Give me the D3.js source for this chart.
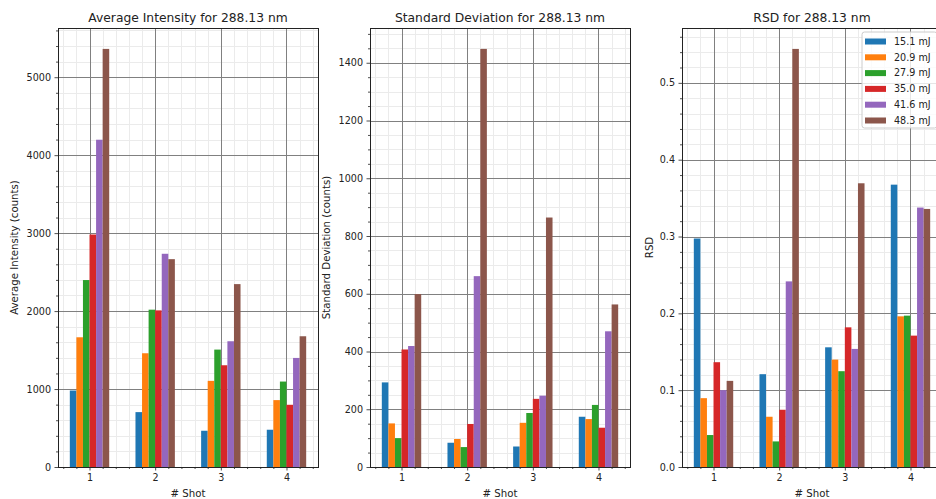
<!DOCTYPE html>
<html>
<head>
<meta charset="utf-8">
<script src="https://cdn.jsdelivr.net/npm/d3@7"></script>
<style>
  body { margin: 0; background: #fff; }
  svg { display: block; }
  text { font-family: "DejaVu Sans", sans-serif; fill: #222; }
</style>
</head>
<body>
<svg id="chart" width="936" height="499"></svg>
<script>
// Shot numbers on the x axis and the laser energies (one bar per energy in each group)
const shots = [1, 2, 3, 4];
const energies = ["15.1 mJ", "20.9 mJ", "27.9 mJ", "35.0 mJ", "41.6 mJ", "48.3 mJ"];
const colors = ["#1f77b4", "#ff7f0e", "#2ca02c", "#d62728", "#9467bd", "#8c564b"];

// Values per shot, one entry per energy (same order as `energies`)
const avgIntensity = [
  [981, 1664, 2398, 2982, 4198, 5363],
  [704, 1459, 2018, 2009, 2735, 2666],
  [465, 1105, 1506, 1305, 1613, 2346],
  [478, 858, 1096, 798, 1399, 1677]
];
const stdDev = [
  [293, 151, 100, 407, 419, 599],
  [84, 97, 69, 149, 661, 1448],
  [71, 153, 187, 236, 247, 864],
  [174, 166, 215, 136, 470, 563]
];
const rsd = [
  [0.2974, 0.0896, 0.0416, 0.1364, 0.1000, 0.1121],
  [0.1208, 0.0654, 0.0333, 0.0745, 0.2416, 0.5442],
  [0.1558, 0.1398, 0.1247, 0.1818, 0.1537, 0.3693],
  [0.3675, 0.1961, 0.1970, 0.1710, 0.3377, 0.3359]
];

const titles = ["Average Intensity for 288.13 nm", "Standard Deviation for 288.13 nm", "RSD for 288.13 nm"];
const yLabels = ["Average Intensity (counts)", "Standard Deviation (counts)", "RSD"];

const panels = [
  { data: avgIntensity, major: 1000, minor: 200, fmt: d3.format("d") },
  { data: stdDev, major: 200, minor: 50, fmt: d3.format("d") },
  { data: rsd, major: 0.1, minor: 0.02, fmt: d3.format(".1f") }
];

const svg = d3.select("#chart");
const plotTop = 28, plotBottom = 467, panelW = 260;
const lefts = [58, 370, 682];
const yLabelOffsets = [44, 44, 33];
const barW = 0.1;

function stepValues(maxV, step, skip) {
  const n = Math.floor(maxV / step + 1e-9);
  return d3.range(0, n + 1).map(i => +(i * step).toFixed(6))
    .filter(v => !skip || Math.abs(v / skip - Math.round(v / skip)) > 1e-6);
}

panels.forEach((p, k) => {
  const left = lefts[k];
  const g = svg.append("g");

  const x = d3.scaleLinear().domain([0.52, 4.48]).range([left, left + panelW]);
  const ymax = d3.max(p.data.flat()) * 1.05;
  const y = d3.scaleLinear().domain([0, ymax]).range([plotBottom, plotTop]);

  const xMajor = shots;
  const xMinor = d3.range(3, 23).map(i => +(i * 0.2).toFixed(6)).filter(v => Math.abs(v - Math.round(v)) > 1e-6);
  const yMajor = stepValues(ymax, p.major);
  const yMinor = stepValues(ymax, p.minor, p.major);

  // grid (minor then major), below the bars
  const grid = g.append("g");
  grid.selectAll(".vmin").data(xMinor).join("line")
    .attr("x1", d => Math.round(x(d)) + 0.5).attr("x2", d => Math.round(x(d)) + 0.5)
    .attr("y1", plotTop).attr("y2", plotBottom).attr("stroke", "#ebebeb").attr("stroke-width", 1);
  grid.selectAll(".hmin").data(yMinor).join("line")
    .attr("y1", d => Math.round(y(d)) + 0.5).attr("y2", d => Math.round(y(d)) + 0.5)
    .attr("x1", left).attr("x2", left + panelW).attr("stroke", "#ebebeb").attr("stroke-width", 1);
  grid.selectAll(".vmaj").data(xMajor).join("line")
    .attr("x1", d => Math.round(x(d)) + 0.5).attr("x2", d => Math.round(x(d)) + 0.5)
    .attr("y1", plotTop).attr("y2", plotBottom).attr("stroke", "#808080").attr("stroke-width", 1);
  grid.selectAll(".hmaj").data(yMajor).join("line")
    .attr("y1", d => Math.round(y(d)) + 0.5).attr("y2", d => Math.round(y(d)) + 0.5)
    .attr("x1", left).attr("x2", left + panelW).attr("stroke", "#808080").attr("stroke-width", 1);

  // bars: one group per shot, six energies side by side
  const cells = [];
  p.data.forEach((row, i) => row.forEach((v, j) => cells.push({ shot: shots[i], j, v })));
  g.append("g").selectAll("rect").data(cells).join("rect")
    .attr("x", d => x(d.shot + (d.j - 3) * barW))
    .attr("width", d => x(d.shot + (d.j - 2) * barW) - x(d.shot + (d.j - 3) * barW))
    .attr("y", d => y(d.v))
    .attr("height", d => y(0) - y(d.v))
    .attr("fill", d => colors[d.j]);

  // axes with major and minor ticks
  g.append("g").attr("transform", `translate(0,${plotBottom})`)
    .call(d3.axisBottom(x).tickValues(xMajor).tickSize(3.5).tickPadding(3.5).tickSizeOuter(0).tickFormat(d3.format("d")));
  g.append("g").attr("transform", `translate(0,${plotBottom})`)
    .call(d3.axisBottom(x).tickValues(xMinor).tickSize(2).tickSizeOuter(0).tickFormat(""));
  g.append("g").attr("transform", `translate(${left},0)`)
    .call(d3.axisLeft(y).tickValues(yMajor).tickSize(3.5).tickPadding(3.5).tickSizeOuter(0).tickFormat(p.fmt));
  g.append("g").attr("transform", `translate(${left},0)`)
    .call(d3.axisLeft(y).tickValues(yMinor).tickSize(2).tickSizeOuter(0).tickFormat(""));
  g.selectAll(".domain").remove();
  g.selectAll(".tick line").attr("stroke", "#222").attr("stroke-width", 0.8);
  g.selectAll(".tick text").style("font-size", "9.6px").attr("fill", "#222");

  // frame
  g.append("rect").attr("x", left + 0.5).attr("y", plotTop + 0.5)
    .attr("width", panelW).attr("height", plotBottom - plotTop)
    .attr("fill", "none").attr("stroke", "#222").attr("stroke-width", 1);

  // titles and labels
  g.append("text").attr("x", left + panelW / 2).attr("y", 21.5)
    .attr("text-anchor", "middle").style("font-size", "12.3px").text(titles[k]);
  g.append("text").attr("x", left + panelW / 2).attr("y", 497)
    .attr("text-anchor", "middle").style("font-size", "10.2px").text("# Shot");
  g.append("text").attr("transform", `translate(${left - yLabelOffsets[k]},${(plotTop + plotBottom) / 2}) rotate(-90)`)
    .attr("text-anchor", "middle").attr("dy", "0.35em").style("font-size", "10.2px").text(yLabels[k]);

  // legend in the last panel
  if (k === 2) {
    const lx = left + panelW - 5 - 75, ly = plotTop + 4;
    const lg = g.append("g");
    lg.append("rect").attr("x", lx).attr("y", ly).attr("width", 75).attr("height", 96)
      .attr("rx", 2.5).attr("fill", "#fff").attr("fill-opacity", 0.8)
      .attr("stroke", "#cccccc").attr("stroke-width", 1);
    const items = lg.selectAll(".item").data(energies).join("g")
      .attr("transform", (d, i) => `translate(${lx + 3},${ly + 9.5 + i * 15.8})`);
    items.append("rect").attr("x", 0).attr("y", -3).attr("width", 21).attr("height", 6)
      .attr("fill", (d, i) => colors[i]);
    items.append("text").attr("x", 29).attr("dy", "0.35em").style("font-size", "9.6px").text(d => d);
  }
});
</script>
</body>
</html>
